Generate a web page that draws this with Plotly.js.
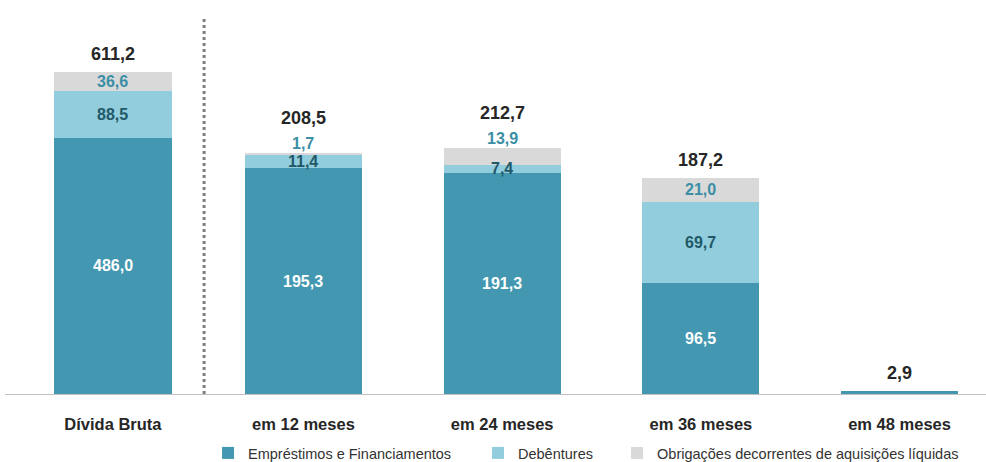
<!DOCTYPE html>
<html>
<head>
<meta charset="utf-8">
<script src="https://cdn.plot.ly/plotly-3.0.1.min.js"></script>
<style>html,body{margin:0;padding:0;background:#fff;}#chart{width:986px;height:462px;}</style>
</head>
<body>
<div id="chart"></div>
<script>
// ---- data ----
const categories = ['Dívida Bruta', 'em 12 meses', 'em 24 meses', 'em 36 meses', 'em 48 meses'];
const seriesNames = ['Empréstimos e Financiamentos', 'Debêntures', 'Obrigações decorrentes de aquisições líquidas'];
const emprestimos = [486.0, 195.3, 191.3, 96.5, 2.9];
const debentures = [88.5, 11.4, 7.4, 69.7, 0];
const obrigacoes = [36.6, 1.7, 13.9, 21.0, 0];
const totals = [611.2, 208.5, 212.7, 187.2, 2.9];

// ---- style ----
const colors = ['#4397B0', '#92CDDD', '#D9D9D9'];
const labelColors = ['#FFFFFF', '#215968', '#3B8EA5'];
const FONT = 'Liberation Sans, Arial, sans-serif';
const W = 986, H = 462;
const M = {l: 5, r: 0, t: 10, b: 68};
const plotH = H - M.t - M.b;
const Y1_MAX = 728.7, Y2_MAX = 332.5;
const BAR_W = 0.59, DB_SHIFT = 0.041;
const legendKeys = ['legend', 'legend2', 'legend3'];
const legendX = [0.211, 0.4848, 0.6258];

const series = [emprestimos, debentures, obrigacoes];
const fmt = v => v.toFixed(1).replace('.', ',');
const xPos = categories.map((c, i) => i === 0 ? i + DB_SHIFT : i);

const traces = [];
series.forEach((vals, s) => {
  traces.push({
    type: 'bar', name: seriesNames[s], legendgroup: 'g' + s, showlegend: false,
    legend: legendKeys[s],
    x: [categories[0]], y: [vals[0]], yaxis: 'y', xaxis: 'x',
    width: BAR_W, offset: -BAR_W / 2 + DB_SHIFT,
    marker: {color: colors[s], line: {width: 0}}, hoverinfo: 'skip'
  });
  traces.push({
    type: 'bar', name: seriesNames[s], legendgroup: 'g' + s, showlegend: true,
    legend: legendKeys[s],
    x: categories.slice(1), y: vals.slice(1), yaxis: 'y2', xaxis: 'x',
    width: BAR_W,
    marker: {color: colors[s], line: {width: 0}}, hoverinfo: 'skip'
  });
});

const annotations = [];
categories.forEach((c, i) => {
  const yref = i === 0 ? 'y' : 'y2';
  const pxPerUnit = plotH / (i === 0 ? Y1_MAX : Y2_MAX);
  const xpos = xPos[i];
  let base = 0;
  let greyOutside = false;
  series.forEach((vals, s) => {
    const v = vals[i];
    const px = v * pxPerUnit;
    const center = base + v / 2;
    base += v;
    if (v <= 0) return;
    const f = {family: FONT, size: 16, color: labelColors[s], weight: 'bold'};
    if (s === 0) {
      if (px < 20) return;
      annotations.push({x: xpos, y: center, xref: 'x', yref: yref, text: fmt(v), showarrow: false, font: f});
    } else if (s === 1) {
      annotations.push({x: xpos, y: center, xref: 'x', yref: yref, text: fmt(v), showarrow: false, font: f});
    } else {
      if (px < 18) {
        greyOutside = true;
        annotations.push({x: xpos, y: base, xref: 'x', yref: yref, text: fmt(v), showarrow: false,
          yanchor: 'middle', yshift: 10, font: f});
      } else {
        annotations.push({x: xpos, y: center, xref: 'x', yref: yref, text: fmt(v), showarrow: false, font: f});
      }
    }
  });
  annotations.push({x: xpos, y: base, xref: 'x', yref: yref, text: fmt(totals[i]), showarrow: false,
    yanchor: 'middle', yshift: greyOutside ? 35 : 18,
    font: {family: FONT, size: 18, color: '#262626', weight: 'bold'}});
});

const layout = {
  width: W, height: H,
  margin: M,
  paper_bgcolor: '#fff', plot_bgcolor: '#fff',
  barmode: 'stack',
  showlegend: true,
  xaxis: {
    type: 'category', categoryorder: 'array', categoryarray: categories,
    tickmode: 'array', tickvals: xPos, ticktext: categories,
    range: [-0.502, 4.435], showline: true, linecolor: '#BFBFBF', linewidth: 1,
    ticks: '', showgrid: false, zeroline: false, ticklabelstandoff: 15,
    tickfont: {family: FONT, size: 16.5, color: '#262626', weight: 'bold'}, fixedrange: true
  },
  yaxis: {range: [0, Y1_MAX], visible: false, showgrid: false, zeroline: false},
  yaxis2: {range: [0, Y2_MAX], overlaying: 'y', side: 'right', visible: false, showgrid: false, zeroline: false},
  shapes: [{
    type: 'line', xref: 'x', yref: 'paper', x0: 0.5, x1: 0.5, y0: 0, y1: 0.982,
    line: {color: '#7F7F7F', width: 3, dash: 'dot'}
  }],
  annotations: annotations
};
legendKeys.forEach((k, s) => {
  layout[k] = {
    orientation: 'h', xref: 'container', yref: 'container',
    x: legendX[s], y: 0.0195, xanchor: 'left', yanchor: 'middle',
    font: {family: FONT, size: 14.5, color: '#333'},
    bgcolor: 'rgba(0,0,0,0)'
  };
});

Plotly.newPlot('chart', traces, layout, {displayModeBar: false, staticPlot: true});
</script>
</body>
</html>
